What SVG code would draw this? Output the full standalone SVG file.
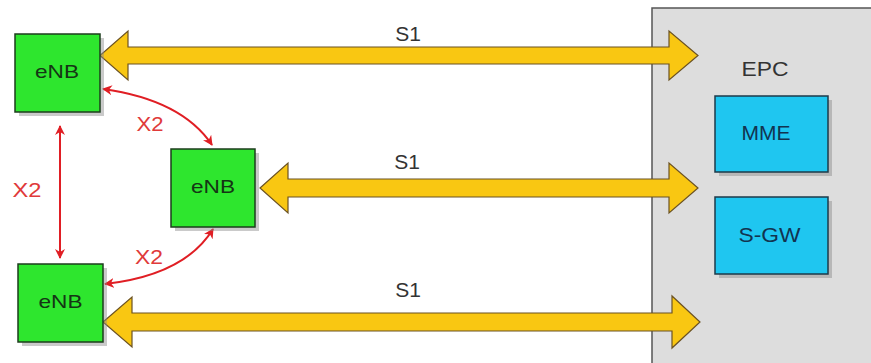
<svg xmlns="http://www.w3.org/2000/svg" width="871" height="363" viewBox="0 0 871 363">
<defs>
<style>
.enb{fill:#2ee62e;stroke:#1d3d1d;stroke-width:1.5}
.core{fill:#1fc6f0;stroke:#1d3a4a;stroke-width:1.5}
.shadow{fill:#8a8a8a;opacity:0.45}
.t{font-family:"Liberation Sans",Arial,sans-serif;font-size:21px;text-anchor:middle}
.tn{fill:#153515;font-size:19px}
.tc{fill:#123450}
.tl{fill:#333}
.tx{fill:#e03a3a;font-size:20px}
.s1{fill:#f9c712;stroke:#6b5223;stroke-width:1.2;stroke-linejoin:miter}
.x2{fill:none;stroke:#e01e24;stroke-width:2}
</style>
<marker id="ah" viewBox="0 0 10 10" refX="9" refY="5" markerWidth="5" markerHeight="5" orient="auto-start-reverse" markerUnits="strokeWidth">
<path d="M0,0 L10,5 L0,10 L3,5 z" fill="#e01e24"/>
</marker>
</defs>
<rect width="871" height="363" fill="#fff"/>
<g id="epc">
<rect x="652" y="8" width="230" height="370" fill="#dddddd" stroke="#555" stroke-width="1.5"/>
<text class="t tl" x="765" y="76" textLength="47" lengthAdjust="spacingAndGlyphs">EPC</text>
</g>
<g id="connectors">
<path class="s1" d="M100,55.5 L128,31 L128,47 L669,47 L669,31 L698,55.5 L669,80 L669,64 L128,64 L128,80 Z"/>
<path class="s1" d="M260,188 L288,163 L288,179 L669,179 L669,163 L698,188 L669,213 L669,197 L288,197 L288,213 Z"/>
<path class="s1" d="M103,322 L132,297 L132,313 L672,313 L672,296 L700,322 L672,348 L672,331 L132,331 L132,347 Z"/>
<line class="x2" x1="60" y1="126" x2="60" y2="258" marker-start="url(#ah)" marker-end="url(#ah)"/>
<path class="x2" d="M103,89 Q182,100 212,145" marker-start="url(#ah)" marker-end="url(#ah)"/>
<path class="x2" d="M213,229 Q185,275 105,284" marker-start="url(#ah)" marker-end="url(#ah)"/>
<text class="t tl" x="408" y="41">S1</text>
<text class="t tl" x="407" y="169">S1</text>
<text class="t tl" x="408" y="297">S1</text>
<text class="t tx" x="27" y="197" textLength="29" lengthAdjust="spacingAndGlyphs">X2</text>
<text class="t tx" x="150" y="131" textLength="27" lengthAdjust="spacingAndGlyphs">X2</text>
<text class="t tx" x="149" y="264" textLength="28" lengthAdjust="spacingAndGlyphs">X2</text>
</g>
<g id="enb1">
<rect class="shadow" x="19" y="38" width="85" height="78"/>
<rect class="enb" x="15" y="34" width="85" height="78"/>
<text class="t tn" x="57" y="78" textLength="44" lengthAdjust="spacingAndGlyphs">eNB</text>
</g>
<g id="enb2">
<rect class="shadow" x="175" y="153" width="84" height="78"/>
<rect class="enb" x="171" y="149" width="84" height="78"/>
<text class="t tn" x="213" y="193" textLength="44" lengthAdjust="spacingAndGlyphs">eNB</text>
</g>
<g id="enb3">
<rect class="shadow" x="22" y="268" width="85" height="78"/>
<rect class="enb" x="18" y="264" width="85" height="78"/>
<text class="t tn" x="60.5" y="308" textLength="44" lengthAdjust="spacingAndGlyphs">eNB</text>
</g>
<g id="mme">
<rect class="shadow" x="719" y="100" width="113" height="76"/>
<rect class="core" x="715" y="96" width="113" height="76"/>
<text class="t tc" x="766" y="140">MME</text>
</g>
<g id="sgw">
<rect class="shadow" x="719" y="201" width="113" height="77"/>
<rect class="core" x="715" y="197" width="113" height="77"/>
<text class="t tc" x="769.5" y="242" textLength="62" lengthAdjust="spacingAndGlyphs">S-GW</text>
</g>
</svg>
